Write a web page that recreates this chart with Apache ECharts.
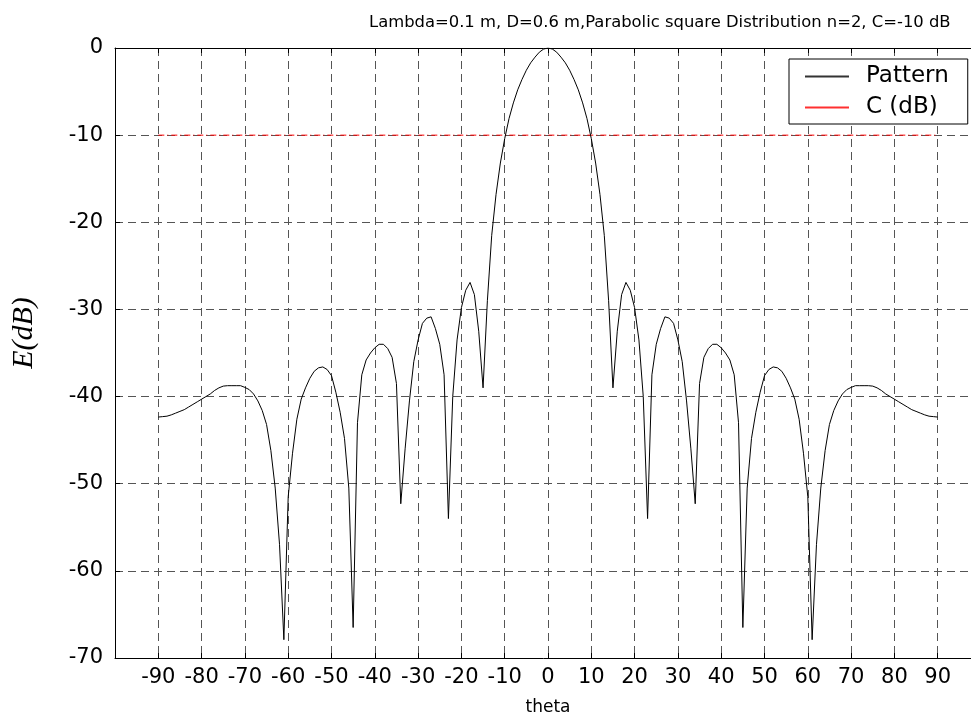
<!DOCTYPE html>
<html>
<head>
<meta charset="utf-8">
<script src="https://cdn.jsdelivr.net/npm/echarts@6/dist/echarts.min.js"></script>
<style>
  html, body { margin: 0; padding: 0; background: #fff; }
  #chart { width: 971px; height: 724px; }
</style>
</head>
<body>
<div id="chart"></div>
<script>
// ---- data ----
const TITLE = 'Lambda=0.1 m, D=0.6 m,Parabolic square Distribution n=2, C=-10 dB';
const X_NAME = 'theta';
const Y_NAME = 'E(dB)';
const LEGEND_NAMES = ['Pattern', 'C (dB)'];

// theta samples: -90 .. 90 degrees, 1 degree apart
const THETA_FIRST = -90;
const THETA_STEP = 1;

// Pattern (dB), one value per theta sample from -90 to 90
const PATTERN_DB = [
  -42.35, -42.3, -42.25, -42.1, -41.9, -41.7, -41.5, -41.2, -40.9, -40.6,
  -40.3, -40.0, -39.7, -39.3, -39.0, -38.8, -38.75, -38.75, -38.75, -38.75,
  -38.95, -39.2, -39.7, -40.5, -41.6, -43.2, -46.2, -50.5, -57.0, -67.9,
  -51.5, -46.5, -42.6, -40.3, -39.0, -37.9, -37.1, -36.7, -36.6, -36.9,
  -37.6, -39.5, -41.8, -44.8, -50.5, -66.5, -43.0, -37.5, -35.8, -35.0,
  -34.4, -34.0, -34.0, -34.5, -35.5, -38.5, -52.3, -46.0, -40.5, -36.0,
  -33.5, -31.6, -31.0, -30.85, -32.2, -34.0, -37.5, -54.0, -40.0, -33.5,
  -29.8, -27.8, -26.9, -28.3, -32.5, -39.0, -29.0, -21.5, -16.8, -13.2,
  -10.4, -8.1, -6.3, -4.8, -3.6, -2.55, -1.7, -1.05, -0.48, -0.12,
  0,
  -0.12, -0.48, -1.05, -1.7, -2.55, -3.6, -4.8, -6.3, -8.1, -10.4,
  -13.2, -16.8, -21.5, -29.0, -39.0, -32.5, -28.3, -26.9, -27.8, -29.8,
  -33.5, -40.0, -54.0, -37.5, -34.0, -32.2, -30.85, -31.0, -31.6, -33.5,
  -36.0, -40.5, -46.0, -52.3, -38.5, -35.5, -34.5, -34.0, -34.0, -34.4,
  -35.0, -35.8, -37.5, -43.0, -66.5, -50.5, -44.8, -41.8, -39.5, -37.6,
  -36.9, -36.6, -36.7, -37.1, -37.9, -39.0, -40.3, -42.6, -46.5, -51.5,
  -67.9, -57.0, -50.5, -46.2, -43.2, -41.6, -40.5, -39.7, -39.2, -38.95,
  -38.75, -38.75, -38.75, -38.75, -38.8, -39.0, -39.3, -39.7, -40.0, -40.3,
  -40.6, -40.9, -41.2, -41.5, -41.7, -41.9, -42.1, -42.25, -42.3, -42.35
];

// C level line
const C_THETA = [-90, 90];
const C_DB = [-10, -10];

// tick labels
const X_TICKS = [-90, -80, -70, -60, -50, -40, -30, -20, -10, 0, 10, 20, 30, 40, 50, 60, 70, 80, 90];
const Y_TICKS = [0, -10, -20, -30, -40, -50, -60, -70];

// axes box range (its right edge falls just outside the picture)
const X_MIN = -100;
const X_MAX = 100;

// ---- chart ----
const patternData = PATTERN_DB.map((v, i) => [THETA_FIRST + i * THETA_STEP, v]);
const cData = C_THETA.map((t, i) => [t, C_DB[i]]);

const SANS = 'DejaVu Sans';
const GRID_LINE = { show: true, lineStyle: { color: '#555', width: 1, type: [8, 5] } };
const chart = echarts.init(document.getElementById('chart'), null, { renderer: 'canvas' });

chart.setOption({
  animation: false,
  backgroundColor: '#fff',
  title: {
    text: TITLE,
    left: 369,
    top: 15,
    padding: 0,
    textStyle: { fontFamily: SANS, fontSize: 16.4, fontWeight: 'normal', color: '#000' }
  },
  grid: {
    left: 115, top: 48, right: -10, bottom: 66,
    outerBoundsMode: 'none',
    containLabel: false,
    show: false
  },
  legend: {
    orient: 'vertical',
    left: 789,
    top: 59,
    padding: [6, 19, 5, 16],
    backgroundColor: '#fff',
    borderColor: '#000',
    borderWidth: 1,
    itemWidth: 44,
    itemHeight: 2,
    itemGap: 8,
    icon: 'rect',
    textStyle: { fontFamily: SANS, fontSize: 23, color: '#000', padding: [0, 0, 0, 12] },
    data: [
      { name: LEGEND_NAMES[0], icon: 'rect', itemStyle: { color: '#333' } },
      { name: LEGEND_NAMES[1], icon: 'rect', itemStyle: { color: '#ff3030' } }
    ]
  },
  xAxis: [{
    type: 'value',
    min: X_MIN, max: X_MAX, interval: 10,
    name: X_NAME,
    nameLocation: 'middle',
    nameGap: 41,
    nameTextStyle: { fontFamily: SANS, fontSize: 17, color: '#000' },
    axisLine: { show: true, onZero: false, lineStyle: { color: '#000', width: 1 } },
    axisTick: { show: true, inside: true, length: 5, lineStyle: { color: '#000' } },
    axisLabel: {
      margin: 9,
      fontFamily: SANS, fontSize: 21, color: '#000',
      formatter: v => X_TICKS.indexOf(v) >= 0 ? String(v) : ''
    },
    splitLine: GRID_LINE
  }, {
    type: 'value',
    position: 'top',
    min: X_MIN, max: X_MAX, interval: 10,
    axisLine: { show: true, onZero: false, lineStyle: { color: '#000', width: 1 } },
    axisTick: { show: true, inside: true, length: 5, lineStyle: { color: '#000' } },
    axisLabel: { show: false },
    splitLine: { show: false }
  }],
  yAxis: {
    type: 'value',
    min: -70, max: 0, interval: 10,
    axisLine: { show: true, onZero: false, lineStyle: { color: '#000', width: 1 } },
    axisTick: { show: true, inside: true, length: 5, lineStyle: { color: '#000' } },
    axisLabel: {
      margin: 12,
      fontFamily: SANS, fontSize: 21, color: '#000',
      formatter: v => Y_TICKS.indexOf(v) >= 0 ? String(v) : ''
    },
    splitLine: GRID_LINE
  },
  graphic: [{
    type: 'text',
    x: 24, y: 333,
    rotation: Math.PI / 2,
    style: {
      text: Y_NAME,
      font: 'italic 30px "Liberation Serif", "Times New Roman", serif',
      fill: '#000',
      textAlign: 'center',
      textVerticalAlign: 'middle'
    }
  }],
  series: [
    {
      name: LEGEND_NAMES[0],
      type: 'line',
      data: patternData,
      symbol: 'none',
      lineStyle: { color: '#000', width: 1 },
      itemStyle: { color: '#000' },
      z: 3
    },
    {
      name: LEGEND_NAMES[1],
      type: 'line',
      data: cData,
      symbol: 'none',
      lineStyle: { color: '#ff0000', width: 1, type: [6, 3, 1, 3] },
      itemStyle: { color: '#ff0000' },
      z: 2
    }
  ]
});
</script>
</body>
</html>
